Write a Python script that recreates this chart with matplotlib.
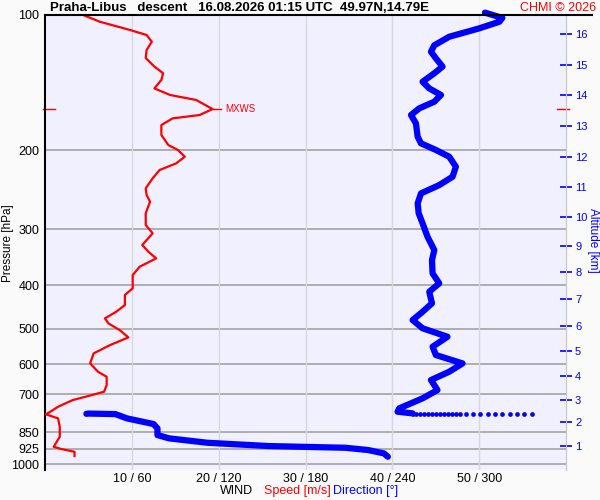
import matplotlib
matplotlib.use('Agg')
import matplotlib.pyplot as plt
from matplotlib.lines import Line2D
import matplotlib.transforms as mtransforms

plt.rcParams['font.family'] = ['Liberation Sans', 'DejaVu Sans']

# wind speed profile [hPa, m/s]
speed_p = [100, 103.5, 108, 110.8, 114.7, 119.7, 124.7, 130.3, 134.8, 139.5, 145.7,
           150.7, 154.6, 162, 167, 169.9, 175.8, 185, 194.8, 199.8, 206.8, 214,
           221.4, 231, 243.2, 251.7, 260.5, 276.4, 293.6, 306.3, 325.2, 336.6,
           348.3, 363.6, 379.4, 406.1, 420.3, 442.5, 458, 473.8, 486.1, 503.1,
           522.3, 543.3, 567, 596.9, 622.9, 639.2, 667, 690.2, 702, 720.3, 745.5,
           765, 775, 791, 826, 869.6, 915.1, 926, 938.9, 959.8]
speed = [4.4, 6.3, 9.8, 11.7, 12.3, 11.7, 11.6, 12.6, 13.6, 13.4, 12.6,
         14.4, 17.4, 19.3, 17.8, 14.7, 13.4, 13.4, 14.2, 15.3, 16.1, 15.1,
         13.2, 12.4, 11.6, 11.7, 12.1, 11.6, 11.6, 12.4, 11.2, 11.9,
         12.8, 10.9, 10.1, 10.1, 9.2, 9.2, 8.2, 6.9, 7.3, 8.6,
         9.6, 7.5, 5.6, 5.2, 6.1, 7.1, 7.1, 6.8, 5.4, 3.2, 1.5,
         0.6, 0.1, 1.5, 1.7, 1.7, 1.0, 1.9, 3.4, 3.4]

# wind direction, upper part [hPa, deg]
dir_p_up = [98.8, 101.5, 103.5, 107.1, 111.8, 116.8, 120.7, 124.9, 130.3, 134.8,
            140.8, 145.7, 150.7, 156.0, 161.4, 167.0, 174.3, 186.7, 193.1, 199.8,
            206.8, 217.7, 229.2, 239.2, 249.6, 262.7, 276.4, 291.1, 311.7, 333.8,
            351.3, 376.1, 395.9, 413.4, 438.6, 458, 477.9, 498.5, 520.6, 548,
            571.8, 596.9, 622.9, 650, 684.2, 714, 751.5, 764.7, 771.2]
dir_up = [304, 316, 314, 300, 279.3, 269, 266.7, 270.1, 274.7, 269,
          260.9, 265.5, 273.6, 269, 258.6, 252.9, 256.3, 257.5, 259.8, 270.1,
          279.3, 283.9, 281.6, 272.4, 259.8, 257.5, 258.2, 260.9, 264.3, 269,
          267.4, 267.8, 272.4, 265.5, 267.4, 260.9, 254, 260.9, 278.1, 267.8,
          270.1, 288.5, 279.3, 266.7, 271.2, 260.9, 244.8, 243.6, 254]

# isolated direction points near 773 hPa
dots_p = 773
dots_dir = [254, 256.6, 259.3, 262.1, 264.8, 267.6, 270.3, 273.1, 275.9, 278.6,
            281.4, 284.1, 286.9, 290.8, 295.9, 300.9, 306, 311, 316.1, 321.2,
            326.2, 331.2, 336.3]

# wind direction, lower part
dir_p_low = [773, 772, 774, 791.2, 814.6, 832.9, 861.8, 876.6, 896.6, 911.9,
             919.9, 930.8, 946.9, 963.3]
dir_low = [28.6, 30, 48.6, 56.6, 75, 77.7, 77.7, 85.7, 112.2, 154.5,
           207.6, 223.5, 234.2, 236.9]

p_ticks = [100, 200, 300, 400, 500, 600, 700, 850, 925, 1000]
x_ticks = [10, 20, 30, 40, 50]
x_labels = ['10 / 60', '20 / 120', '30 / 180', '40 / 240', '50 / 300']
alt_km = list(range(1, 17))
alt_p = [911.9, 805.8, 719.6, 636.4, 559.5, 492.0, 428.2, 372.8, 326.1, 282.4,
         242.1, 207.5, 176.9, 150.9, 129.3, 110.3]
mxws_p = 162

blue = '#0000ff'
red = '#ff0000'

fig = plt.figure(figsize=(6, 5), dpi=100, facecolor='#fafafa')
ax = fig.add_axes([45/600, 1-470/500, 521/600, 455/500])
ax.set_facecolor('#f0f0fe')
ax.set_yscale('log')
ax.set_ylim(1031, 100)
ax.set_xlim(0, 60)

ax.set_yticks(p_ticks)
ax.set_yticklabels([str(p) for p in p_ticks], fontsize=9)
ax.minorticks_off()
ax.tick_params(axis='y', length=0, pad=4)
ax.set_xticks(x_ticks)
ax.set_xticklabels(x_labels, fontsize=9)
ax.tick_params(axis='x', length=0, pad=2)
for p in p_ticks[1:]:
    ax.axhline(p, color='#a8a8a8', lw=1.3, zorder=1)
for x in x_ticks:
    ax.axvline(x, color='#d8d8d8', lw=1, zorder=1)

for s in ['top', 'bottom']:
    ax.spines[s].set_visible(False)
ax.spines['left'].set_color('black')
ax.spines['left'].set_linewidth(1.5)
ax.spines['right'].set_color('#c8c8c8')

ax.plot(speed, speed_p, color=red, lw=1.6, solid_joinstyle='round', zorder=4)
ax.plot([d/6 for d in dir_up], dir_p_up, color=blue, lw=4.5,
        solid_capstyle='round', solid_joinstyle='round', zorder=3, clip_on=False)
ax.plot([d/6 for d in dots_dir], [dots_p]*len(dots_dir), 'o', color=blue, ms=3.4,
        mec='none', zorder=3)
ax.plot([d/6 for d in dir_low], dir_p_low, color=blue, lw=4.5,
        solid_capstyle='round', solid_joinstyle='round', zorder=3)

# max wind marker
trans = mtransforms.blended_transform_factory(ax.transAxes, ax.transData)
ax.plot([-0.004, 0.02], [mxws_p, mxws_p], color=red, lw=1, transform=trans, clip_on=False)
ax.plot([0.982, 1.005], [mxws_p, mxws_p], color=red, lw=1, transform=trans, clip_on=False)
ax.plot([19.3, 20.3], [mxws_p, mxws_p], color=red, lw=1)
ax.text(20.8, mxws_p, 'MXWS', color=red, fontsize=7, va='center', ha='left')

ax2 = ax.twinx()
ax2.set_yscale('log')
ax2.set_ylim(1031, 100)
ax2.set_yticks(alt_p)
ax2.set_yticklabels([str(a) for a in alt_km], fontsize=8, color=blue)
ax2.minorticks_off()
ax2.tick_params(axis='y', colors=blue, direction='inout', length=9, width=1.2, pad=2)
for s in ['top', 'bottom', 'left']:
    ax2.spines[s].set_visible(False)
ax2.spines['right'].set_color('#c8c8c8')

fig.text(8/600, 1-243/500, 'Pressure [hPa]', fontsize=8.5, rotation=90,
         ha='center', va='center')
fig.text(593/600, 1-240/500, 'Altitude [km]', fontsize=8.5, rotation=-90,
         color=blue, ha='center', va='center')

# top frame line
fig.add_artist(Line2D([45/600, 592/600], [1-15/500, 1-15/500], color='black', lw=1.5))

fig.text(50/600, 1-8/500, 'Praha-Libus   descent   16.08.2026 01:15 UTC  49.97N,14.79E',
         fontsize=9.5, fontweight='bold', va='center', ha='left')
fig.text(596/600, 1-8/500, 'CHMI \u00a9 2026', fontsize=9, color=red, va='center', ha='right')

fig.text(253/600, 1-491/500, 'WIND', fontsize=9, ha='right', va='center')
fig.text(264/600, 1-491/500, 'Speed [m/s]', fontsize=9, color=red, ha='left', va='center')
fig.text(333/600, 1-491/500, 'Direction [\u00b0]', fontsize=9, color=blue, ha='left', va='center')

fig.savefig('out.png', dpi=100, facecolor=fig.get_facecolor())
